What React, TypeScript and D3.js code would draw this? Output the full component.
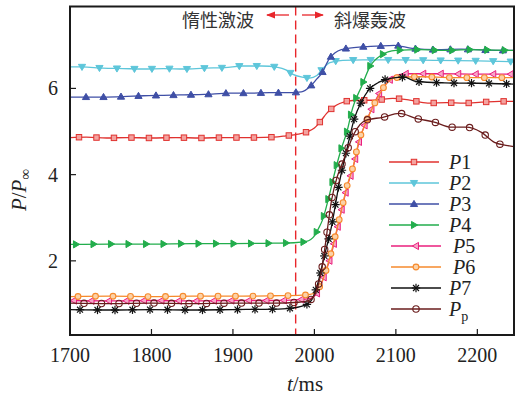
import React, { useEffect, useRef } from 'react';
import * as d3 from 'd3';

const W = 519;
const H = 401;
const X_DOMAIN: [number, number] = [1700, 2245];
const Y_DOMAIN: [number, number] = [0.28, 7.9];
const X_TICKS = [1700, 1800, 1900, 2000, 2100, 2200];
const Y_TICKS = [2, 4, 6];
const SHOCK_T = 1977;

// [t (ms), P/Pinf]
const P1 = [[1700, 4.86], [1720, 4.87], [1745, 4.85], [1770, 4.86], [1800, 4.85], [1830, 4.86], [1860, 4.85], [1890, 4.86], [1920, 4.86], [1950, 4.87], [1965, 4.9], [1980, 4.94], [1992, 5.0], [2000, 5.08], [2008, 5.25], [2015, 5.42], [2023, 5.56], [2031, 5.65], [2047, 5.72], [2076, 5.73], [2096, 5.77], [2117, 5.73], [2139, 5.66], [2162, 5.67], [2184, 5.66], [2205, 5.68], [2227, 5.7], [2245, 5.7]];
const P2 = [[1700, 6.5], [1715, 6.5], [1740, 6.47], [1765, 6.46], [1790, 6.45], [1815, 6.46], [1840, 6.45], [1865, 6.47], [1890, 6.48], [1911, 6.52], [1935, 6.52], [1955, 6.49], [1965, 6.43], [1973, 6.33], [1985, 6.26], [1994, 6.24], [2003, 6.3], [2010, 6.45], [2019, 6.6], [2035, 6.65], [2060, 6.66], [2100, 6.66], [2150, 6.65], [2200, 6.64], [2245, 6.62]];
const P3 = [[1700, 5.8], [1715, 5.8], [1740, 5.8], [1765, 5.81], [1790, 5.83], [1815, 5.84], [1840, 5.85], [1865, 5.86], [1896, 5.89], [1920, 5.89], [1945, 5.9], [1963, 5.9], [1984, 5.92], [1995, 6.05], [2003, 6.22], [2009, 6.35], [2018, 6.68], [2025, 6.82], [2033, 6.9], [2055, 6.96], [2076, 6.98], [2098, 7.0], [2120, 6.93], [2150, 6.9], [2180, 6.91], [2210, 6.89], [2245, 6.88]];
const P4 = [[1700, 2.38], [1750, 2.39], [1800, 2.39], [1850, 2.4], [1900, 2.4], [1950, 2.41], [1975, 2.42], [1990, 2.45], [2000, 2.58], [2005, 2.75], [2010, 2.95], [2018, 3.5], [2025, 4.05], [2033, 4.6], [2040, 5.0], [2047, 5.55], [2058, 6.05], [2068, 6.5], [2082, 6.77], [2100, 6.88], [2130, 6.9], [2160, 6.88], [2190, 6.9], [2220, 6.89], [2245, 6.88]];
const P5 = [[1700, 1.08], [1750, 1.07], [1800, 1.08], [1850, 1.07], [1900, 1.08], [1950, 1.08], [1980, 1.1], [1995, 1.13], [2005, 1.3], [2012, 1.65], [2020, 2.1], [2030, 2.9], [2040, 3.7], [2048, 4.2], [2056, 4.85], [2064, 5.25], [2072, 5.6], [2080, 5.9], [2090, 6.15], [2100, 6.3], [2115, 6.34], [2150, 6.34], [2200, 6.33], [2245, 6.33]];
const P6 = [[1700, 1.17], [1750, 1.18], [1800, 1.17], [1850, 1.18], [1900, 1.18], [1950, 1.19], [1980, 1.2], [1995, 1.22], [2003, 1.3], [2010, 1.55], [2019, 2.08], [2031, 3.0], [2041, 3.8], [2047, 4.15], [2055, 4.8], [2062, 5.15], [2070, 5.5], [2078, 5.8], [2088, 6.1], [2100, 6.25], [2130, 6.27], [2170, 6.25], [2210, 6.25], [2245, 6.25]];
const P7 = [[1700, 0.87], [1750, 0.86], [1800, 0.87], [1850, 0.86], [1900, 0.87], [1950, 0.88], [1970, 0.9], [1985, 0.95], [1995, 1.05], [2003, 1.4], [2012, 2.1], [2021, 2.8], [2031, 3.85], [2040, 4.6], [2049, 5.3], [2058, 5.7], [2066, 5.95], [2080, 6.15], [2095, 6.24], [2110, 6.26], [2125, 6.16], [2160, 6.13], [2200, 6.12], [2245, 6.1]];
const PP = [[1700, 1.02], [1750, 1.01], [1800, 1.02], [1850, 1.01], [1900, 1.02], [1950, 1.02], [1980, 1.04], [1993, 1.08], [2000, 1.2], [2009, 1.8], [2015, 2.6], [2021, 3.4], [2028, 3.95], [2035, 4.3], [2042, 4.65], [2049, 4.96], [2063, 5.26], [2084, 5.33], [2104, 5.42], [2126, 5.3], [2147, 5.22], [2168, 5.1], [2186, 5.1], [2205, 4.98], [2221, 4.75], [2235, 4.68], [2245, 4.65]];

const SERIES = [
  { name: '1', data: P1, color: '#e0322f', marker: 'square', offset: 9 },
  { name: '2', data: P2, color: '#5ec6da', marker: 'triDown', offset: 12 },
  { name: '3', data: P3, color: '#3f4fa6', marker: 'triUp', offset: 16 },
  { name: '4', data: P4, color: '#22ad4c', marker: 'triRight', offset: 6 },
  { name: '5', data: P5, color: '#ea1f7d', marker: 'triLeft', offset: 4 },
  { name: '6', data: P6, color: '#f68a2c', marker: 'circle', offset: 8 },
  { name: '7', data: P7, color: '#111111', marker: 'star', offset: 10 },
  { name: 'p', data: PP, color: '#6a1c1c', marker: 'ring', offset: 14 },
];

const SERIF = '"Liberation Serif", "DejaVu Serif", serif';

function drawMarker(g: any, type: string, x: number, y: number, color: string) {
  const s = 3.2;
  if (type === 'square') {
    g.append('rect').attr('x', x - s * 0.85).attr('y', y - s * 0.85).attr('width', s * 1.7).attr('height', s * 1.7)
      .attr('fill', '#f3a3a0').attr('stroke', color).attr('stroke-width', 1);
  } else if (type === 'circle') {
    g.append('circle').attr('cx', x).attr('cy', y).attr('r', s * 0.9)
      .attr('fill', '#fbd2a8').attr('stroke', color).attr('stroke-width', 1.1);
  } else if (type === 'ring') {
    g.append('circle').attr('cx', x).attr('cy', y).attr('r', s)
      .attr('fill', 'none').attr('stroke', color).attr('stroke-width', 1.1);
  } else if (type === 'star') {
    const r = 4.2;
    for (let k = 0; k < 4; k++) {
      const a = (k * Math.PI) / 4;
      g.append('line').attr('x1', x - r * Math.cos(a)).attr('y1', y - r * Math.sin(a))
        .attr('x2', x + r * Math.cos(a)).attr('y2', y + r * Math.sin(a))
        .attr('stroke', color).attr('stroke-width', 1.2);
    }
  } else {
    const r = 3.6;
    let pts: number[][] = [];
    if (type === 'triUp') pts = [[0, -r], [r, r * 0.7], [-r, r * 0.7]];
    if (type === 'triDown') pts = [[0, r], [r, -r * 0.7], [-r, -r * 0.7]];
    if (type === 'triRight') pts = [[r, 0], [-r * 0.7, r], [-r * 0.7, -r]];
    if (type === 'triLeft') pts = [[-r, 0], [r * 0.7, r], [r * 0.7, -r]];
    const light = type === 'triLeft';
    g.append('polygon').attr('points', pts.map(p => `${x + p[0]},${y + p[1]}`).join(' '))
      .attr('fill', light ? '#f7a6c8' : color).attr('stroke', color).attr('stroke-width', 1);
  }
}

const App = () => {
  const ref = useRef<SVGSVGElement>(null);

  useEffect(() => {
    if (!ref.current) return;
    const svg = d3.select(ref.current);
    svg.selectAll('*').remove();

    const left = 70, right = 514, top = 6.5, bottom = 335;
    const x = d3.scaleLinear().domain(X_DOMAIN).range([left, right]);
    const y = d3.scaleLinear().domain(Y_DOMAIN).range([bottom, top]);

    svg.append('defs').append('clipPath').attr('id', 'plotclip')
      .append('rect').attr('x', left).attr('y', top).attr('width', right - left).attr('height', bottom - top);

    // shock marker line
    svg.append('line').attr('x1', x(SHOCK_T)).attr('x2', x(SHOCK_T)).attr('y1', top).attr('y2', bottom)
      .attr('stroke', '#e8262b').attr('stroke-width', 1.4).attr('stroke-dasharray', '9,5');

    const line = d3.line<number[]>().x(d => x(d[0])).y(d => y(d[1])).curve(d3.curveMonotoneX);
    const plot = svg.append('g').attr('clip-path', 'url(#plotclip)');

    SERIES.forEach(s => {
      const path = plot.append('path').datum(s.data).attr('d', line)
        .attr('fill', 'none').attr('stroke', s.color).attr('stroke-width', 1.3);
      const node = path.node() as SVGPathElement;
      const len = node.getTotalLength();
      const mg = plot.append('g');
      for (let l = s.offset; l < len; l += 17.5) {
        const p = node.getPointAtLength(l);
        drawMarker(mg, s.marker, p.x, p.y, s.color);
      }
    });

    // frame
    svg.append('rect').attr('x', left).attr('y', top).attr('width', right - left).attr('height', bottom - top)
      .attr('fill', 'none').attr('stroke', '#1a1a1a').attr('stroke-width', 2);

    // x ticks
    X_TICKS.forEach(t => {
      svg.append('line').attr('x1', x(t)).attr('x2', x(t)).attr('y1', bottom).attr('y2', bottom - 6)
        .attr('stroke', '#1a1a1a').attr('stroke-width', 1.2);
      svg.append('text').attr('x', x(t)).attr('y', 362).attr('text-anchor', 'middle')
        .attr('font-family', SERIF).attr('font-size', 20).attr('fill', '#222').text(t);
    });
    Y_TICKS.forEach(v => {
      svg.append('line').attr('x1', left).attr('x2', left + 6).attr('y1', y(v)).attr('y2', y(v))
        .attr('stroke', '#1a1a1a').attr('stroke-width', 1.2);
      svg.append('text').attr('x', 58).attr('y', y(v) + 7).attr('text-anchor', 'end')
        .attr('font-family', SERIF).attr('font-size', 20).attr('fill', '#222').text(v);
    });

    // axis titles
    const xt = svg.append('text').attr('x', 305).attr('y', 391).attr('text-anchor', 'middle')
      .attr('font-family', SERIF).attr('font-size', 21).attr('fill', '#222');
    xt.append('tspan').attr('font-style', 'italic').text('t');
    xt.append('tspan').text('/ms');

    const yt = svg.append('text').attr('transform', 'translate(26,190) rotate(-90)').attr('text-anchor', 'middle')
      .attr('font-family', SERIF).attr('font-size', 21).attr('fill', '#222');
    yt.append('tspan').attr('font-style', 'italic').text('P');
    yt.append('tspan').text('/');
    yt.append('tspan').attr('font-style', 'italic').text('P');
    yt.append('tspan').attr('font-size', 15).attr('dy', 4).text('∞');

    // region labels
    const cjk = '"Noto Sans CJK SC", sans-serif';
    svg.append('text').attr('x', 218).attr('y', 27).attr('text-anchor', 'middle')
      .attr('font-family', cjk).attr('font-size', 18).attr('fill', '#333').text('惰性激波');
    svg.append('text').attr('x', 370).attr('y', 27).attr('text-anchor', 'middle')
      .attr('font-family', cjk).attr('font-size', 18).attr('fill', '#333').text('斜爆轰波');

    const defs = svg.select('defs');
    defs.append('marker').attr('id', 'arrowhead').attr('viewBox', '0 0 10 10').attr('refX', 9).attr('refY', 5)
      .attr('markerWidth', 7).attr('markerHeight', 7).attr('orient', 'auto-start-reverse')
      .append('path').attr('d', 'M0,1 L10,5 L0,9 Z').attr('fill', '#e8262b');
    svg.append('line').attr('x1', 289).attr('x2', 267).attr('y1', 15).attr('y2', 15)
      .attr('stroke', '#e8262b').attr('stroke-width', 1.3).attr('marker-end', 'url(#arrowhead)');
    svg.append('line').attr('x1', 302).attr('x2', 323).attr('y1', 15).attr('y2', 15)
      .attr('stroke', '#e8262b').attr('stroke-width', 1.3).attr('marker-end', 'url(#arrowhead)');

    // legend
    SERIES.forEach((s, i) => {
      const ly = 162 + i * 21;
      const lx = i >= 4 ? 391 : 389;
      svg.append('line').attr('x1', lx).attr('x2', lx + 50).attr('y1', ly).attr('y2', ly)
        .attr('stroke', s.color).attr('stroke-width', 1.3);
      drawMarker(svg, s.marker, lx + 25, ly, s.color);
      const tx = svg.append('text').attr('x', i === 4 || i === 5 ? 453 : 449).attr('y', ly + 7)
        .attr('font-family', SERIF).attr('font-size', 20).attr('fill', '#222');
      tx.append('tspan').attr('font-style', 'italic').text('P');
      if (s.name === 'p') {
        tx.append('tspan').attr('font-size', 14).attr('dy', 5).text('p');
      } else {
        tx.append('tspan').text(s.name);
      }
    });
  }, []);

  return (
    <svg
      ref={ref}
      width={W}
      height={H}
      style={{ position: 'absolute', left: 0, top: 0, background: '#fff' }}
    />
  );
};

export default App;
